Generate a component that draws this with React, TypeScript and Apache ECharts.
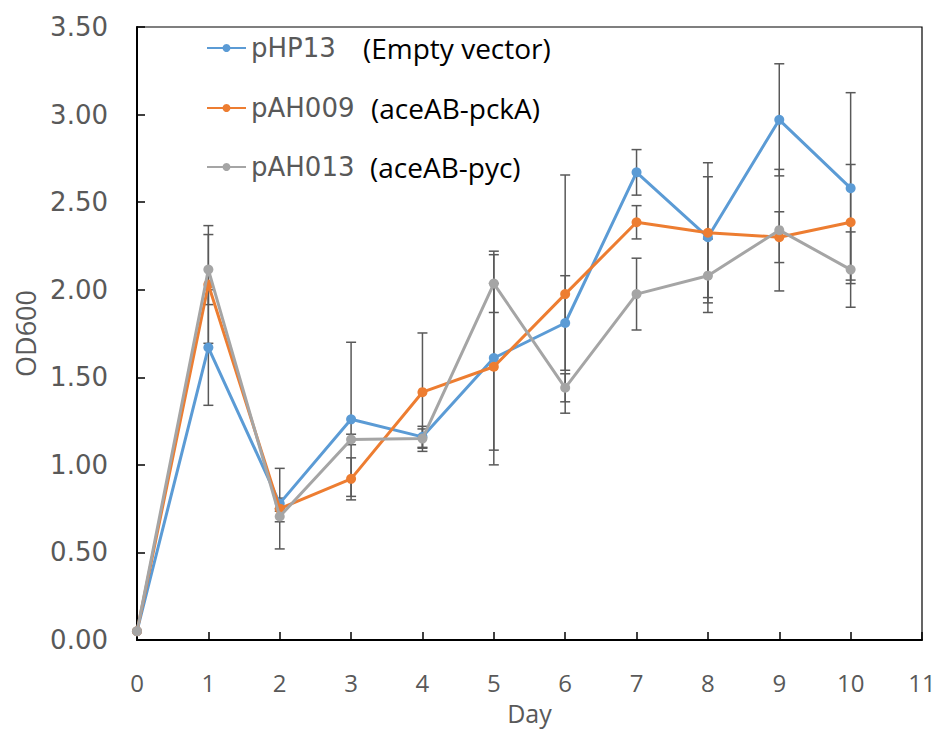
import React, { useEffect, useRef } from "react";
import * as echarts from "echarts";

const days = [0, 1, 2, 3, 4, 5, 6, 7, 8, 9, 10];
const pHP13 = [0.05, 1.67, 0.78, 1.26, 1.16, 1.61, 1.81, 2.67, 2.3, 2.97, 2.58];
const pHP13Err = [0, 0.33, 0.03, 0.44, 0.06, 0.61, 0.27, 0.13, 0.345, 0.32, 0.545];
const pAH009 = [0.05, 2.03, 0.75, 0.92, 1.415, 1.56, 1.975, 2.385, 2.325, 2.3, 2.385];
const pAH009Err = [0, 0.336, 0.23, 0.12, 0.338, 0.476, 0.68, 0.095, 0.4, 0.145, 0.33];
const pAH013 = [0.05, 2.115, 0.705, 1.145, 1.15, 2.035, 1.44, 1.975, 2.08, 2.34, 2.115];
const pAH013Err = [0, 0.2, 0.03, 0.03, 0.055, 0.165, 0.08, 0.205, 0.21, 0.347, 0.215];

const seriesNames = ["pHP13", "pAH009", "pAH013"];
const seriesNotes = ["(Empty vector)", "(aceAB-pckA)", "(aceAB-pyc)"];
const colors = ["#5B9BD5", "#ED7D31", "#A5A5A5"];

const SANS = "'Open Sans', 'Noto Sans', sans-serif";
const WIDE = "'DejaVu Sans', sans-serif";

export default function App() {
  const ref = useRef<HTMLDivElement>(null);
  useEffect(() => {
    document.body.style.margin = "0";
    const chart = echarts.init(ref.current!, null, { renderer: "svg" });
    const values = [pHP13, pAH009, pAH013];
    const errs = [pHP13Err, pAH009Err, pAH013Err];

    const errSeries = values.map((vals, si) => ({
      type: "custom",
      name: "err" + si,
      z: 1,
      silent: true,
      data: days.map((d, i) => [d, vals[i], errs[si][i]]),
      encode: { x: 0, y: 1 },
      renderItem: (params: any, api: any) => {
        const x = api.value(0);
        const y = api.value(1);
        const e = api.value(2);
        if (!e) return { type: "group", children: [] };
        const top = api.coord([x, y + e]);
        const bot = api.coord([x, y - e]);
        const w = 5;
        const st = { stroke: "#595959", lineWidth: 1.5 };
        return {
          type: "group",
          children: [
            { type: "line", shape: { x1: top[0], y1: top[1], x2: bot[0], y2: bot[1] }, style: st },
            { type: "line", shape: { x1: top[0] - w, y1: top[1], x2: top[0] + w, y2: top[1] }, style: st },
            { type: "line", shape: { x1: bot[0] - w, y1: bot[1], x2: bot[0] + w, y2: bot[1] }, style: st },
          ],
        };
      },
    }));

    const lineSeries = values.map((vals, si) => ({
      type: "line",
      name: seriesNames[si],
      z: 3 + si,
      data: days.map((d, i) => [d, vals[i]]),
      symbol: "circle",
      symbolSize: 10,
      showSymbol: true,
      itemStyle: { color: colors[si] },
      lineStyle: { color: colors[si], width: 3 },
    }));

    const legendTops = [29, 89, 148];
    const nameWidths = [112, 120, 119];
    const legends = seriesNames.map((n, si) => ({
      data: [n],
      left: 201,
      top: legendTops[si],
      itemWidth: 39,
      itemHeight: 10,
      itemGap: 4,
      formatter: (name: string) => `{a|${name}}{b|${seriesNotes[seriesNames.indexOf(name)]}}`,
      textStyle: {
        rich: {
          a: { color: "#595959", fontSize: 26, fontFamily: WIDE, width: nameWidths[si] },
          b: { color: "#000000", fontSize: 28, fontFamily: SANS },
        },
      },
    }));

    chart.setOption({
      animation: false,
      backgroundColor: "#ffffff",
      grid: {
        left: 137,
        right: 24,
        top: 27,
        bottom: 91,
        show: true,
        borderColor: "#000000",
        borderWidth: 1.2,
      },
      legend: legends,
      xAxis: {
        type: "value",
        min: 0,
        max: 11,
        interval: 1,
        name: "Day",
        nameLocation: "middle",
        nameGap: 60,
        nameTextStyle: { color: "#595959", fontSize: 25, fontFamily: SANS },
        axisLine: { lineStyle: { color: "#000000", width: 2 } },
        axisTick: { inside: true, length: 8, lineStyle: { color: "#000000", width: 1.5 } },
        axisLabel: { color: "#595959", fontSize: 24, fontFamily: SANS, margin: 30 },
        splitLine: { show: false },
      },
      yAxis: {
        type: "value",
        min: 0,
        max: 3.5,
        interval: 0.5,
        name: "OD600",
        nameLocation: "middle",
        nameGap: 98,
        nameRotate: 90,
        nameTextStyle: { color: "#595959", fontSize: 27, fontFamily: SANS },
        axisLine: { show: true, lineStyle: { color: "#000000", width: 2 } },
        axisTick: { show: true, inside: true, length: 8, lineStyle: { color: "#000000", width: 1.5 } },
        axisLabel: {
          color: "#595959",
          fontSize: 26,
          fontFamily: WIDE,
          margin: 29,
          formatter: (v: number) => v.toFixed(2),
        },
        splitLine: { show: false },
      },
      series: [...errSeries, ...lineSeries],
    });
    return () => chart.dispose();
  }, []);
  return <div ref={ref} style={{ width: 946, height: 731 }} />;
}
